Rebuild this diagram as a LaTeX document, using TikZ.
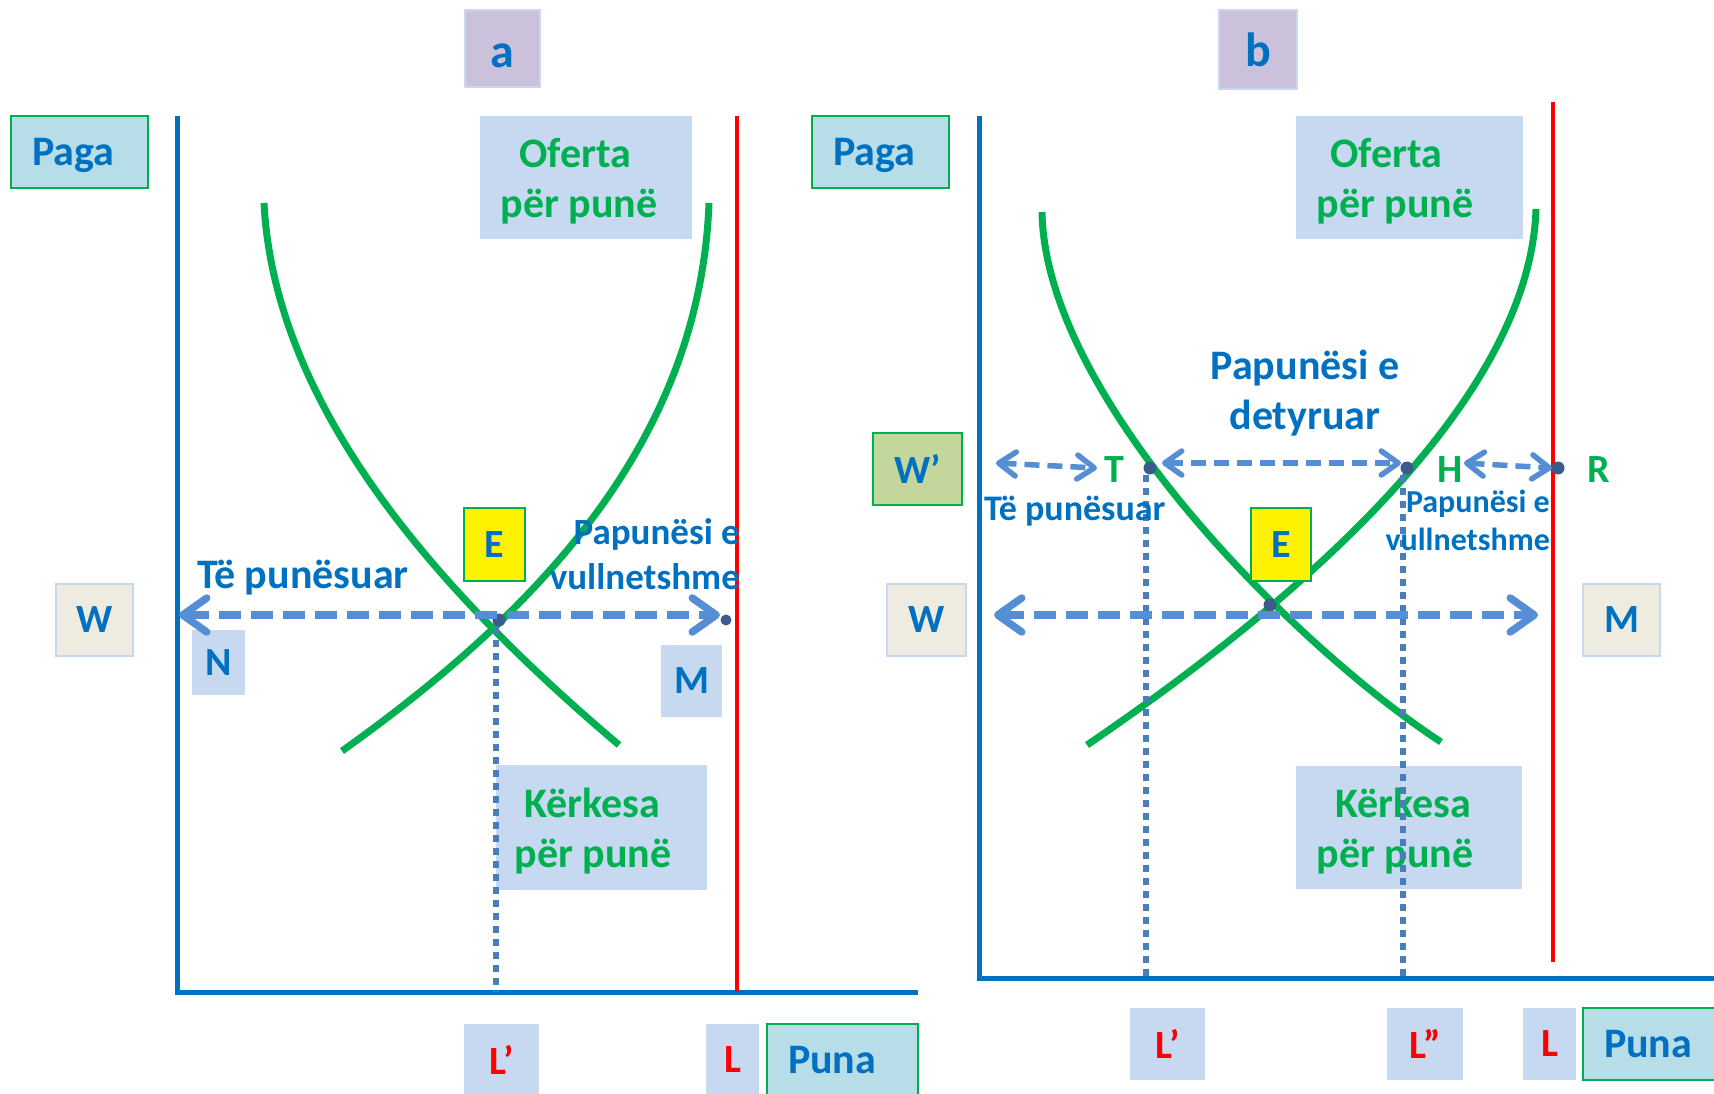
\documentclass[tikz,border=0pt]{standalone}
\usepackage{fontspec}
\setmainfont{Carlito}
\usetikzlibrary{arrows.meta}
\definecolor{tblue}{HTML}{0070C0}
\definecolor{tgreen}{HTML}{00B050}
\definecolor{tred}{HTML}{FF0000}
\definecolor{lbox}{HTML}{C6D9F1}
\definecolor{pagac}{HTML}{B7DEE8}
\definecolor{wboxc}{HTML}{EEECE1}
\definecolor{wprc}{HTML}{C3D69B}
\definecolor{lavc}{HTML}{CCC1DA}
\definecolor{arrc}{HTML}{558ED5}
\definecolor{dotc}{HTML}{3A5B8C}
\definecolor{vlinec}{HTML}{4A7EBB}
\newcommand{\fszBig}{\fontsize{42}{50}\selectfont\bfseries}
\newcommand{\fszLet}{\fontsize{40}{48}\selectfont\bfseries}
\newcommand{\fszAB}{\fontsize{48}{56}\selectfont\bfseries}
\newcommand{\fszMidA}{\fontsize{37}{45.5}\selectfont\bfseries}
\newcommand{\fszMidB}{\fontsize{36}{44}\selectfont\bfseries}
\newcommand{\fszSmB}{\fontsize{32}{38}\selectfont\bfseries}
\newcommand{\rpad}[1]{\hspace*{#1pt}}
\newcommand{\topstrut}{\rule{0pt}{37pt}}
\tikzset{
  bx/.style={rectangle, inner sep=0pt, line width=2pt, font=\fszLet},
  lbfill/.style={bx, fill=lbox, draw=none},
  lavbox/.style={bx, fill=lavc, draw=lbox, text=tblue, font=\fszAB},
  pagabox/.style={bx, fill=pagac, draw=tgreen, line width=2.5pt, text=tblue, font=\fszBig, align=left, inner xsep=21pt},
  wbox/.style={bx, fill=wboxc, draw=lbox, text=tblue},
  ebox/.style={bx, fill=yellow, draw=tgreen, text=tblue},
  wpbox/.style={bx, fill=wprc, draw=tgreen, line width=2.5pt, text=tblue},
  curvebox/.style={lbfill, text=tgreen, font=\fszBig, align=center},
  redlbl/.style={lbfill, text=tred},
  bluelbl/.style={lbfill, text=tblue},
  axisline/.style={draw=tblue, line width=5pt},
  redline/.style={draw=tred, line width=4.5pt},
  curve/.style={draw=tgreen, line width=7pt},
  vdots/.style={draw=vlinec, line width=5.5pt, dash pattern=on 7pt off 6pt},
  bigarrow/.style={draw=arrc, line width=7.5pt, dash pattern=on 22pt off 10pt,
     {Straight Barb[length=24pt,width=34pt,line cap=round,line join=round]}-{Straight Barb[length=24pt,width=34pt,line cap=round,line join=round]}},
  smallarrow/.style={draw=arrc, line width=5.5pt, dash pattern=on 15pt off 8pt,
     {Straight Barb[length=17pt,width=24pt,line cap=round,line join=round]}-{Straight Barb[length=17pt,width=24pt,line cap=round,line join=round]}},
  dotn/.style={circle, fill=dotc, inner sep=0pt, minimum size=13pt},
  ptlbl/.style={inner sep=0pt, text=tgreen, font=\fszLet, anchor=base},
  bluetext/.style={inner sep=0pt, text=tblue}
}
\begin{document}
\begin{tikzpicture}[x=1pt,y=-1pt]
\useasboundingbox (0,0) rectangle (1714,1093);

% ---------------- background boxes ----------------
\node[lavbox, minimum width=75pt, minimum height=77pt] (labA) at (502.5,48.5) {\rule{0pt}{38pt}a};
\node[lavbox, minimum width=78pt, minimum height=79pt] (labB) at (1258,49.5) {b};

\node[pagabox, text width=95pt, minimum height=72pt] (pagaA) at (79.5,152) {\rule{0pt}{34pt}Paga};
\node[pagabox, text width=95pt, minimum height=72pt] (pagaB) at (880.5,152) {\rule{0pt}{34pt}Paga};

\node[curvebox, minimum width=212pt, minimum height=123pt] (ofA) at (586,177.5) {\topstrut Oferta\rpad{22}\\për punë\rpad{14}};
\node[curvebox, minimum width=227pt, minimum height=123pt] (ofB) at (1409.5,177.5) {\topstrut Oferta\rpad{46}\\për punë\rpad{29}};
\node[curvebox, minimum width=211pt, minimum height=125pt] (kA) at (601.5,827.5) {\topstrut Kërkesa\rpad{19}\\për punë\rpad{17}};
\node[curvebox, minimum width=226pt, minimum height=123pt] (kB) at (1409,827.5) {\topstrut Kërkesa\rpad{12}\\për punë\rpad{28}};

\node[wbox, minimum width=77pt, minimum height=72pt] (wA) at (94.5,620) {W};
\node[bluelbl, minimum width=53pt, minimum height=65pt] (nA) at (218.5,662.5) {N};
\node[bluelbl, minimum width=61pt, minimum height=72pt] (mA) at (691.5,681) {M};
\node[wbox, minimum width=79pt, minimum height=72pt] (wB) at (926.5,620) {W};
\node[wbox, minimum width=77pt, minimum height=72pt] (mB) at (1621.5,620) {M};
\node[wpbox, minimum width=89pt, minimum height=72pt] (wpB) at (917.5,469) {W’};

\node[redlbl, minimum width=75pt, minimum height=72pt] (lpA) at (501.5,1060) {L’};
\node[redlbl, minimum width=53pt, minimum height=72pt] (lA) at (732.5,1060) {L};
\node[pagabox, text width=109pt, minimum height=72pt] (punaA) at (842.5,1060) {Puna};
\node[redlbl, minimum width=75pt, minimum height=72pt] (lpB) at (1167.5,1044) {L’};
\node[redlbl, minimum width=76pt, minimum height=72pt] (lppB) at (1425,1044) {L”};
\node[redlbl, minimum width=53pt, minimum height=72pt] (lB) at (1549.5,1044) {L};
\node[pagabox, text width=95pt, minimum height=72pt] (punaB) at (1651.5,1044) {Puna};

% ---------------- axes ----------------
\coordinate (aTop) at (177,116); \coordinate (aO) at (177,992); \coordinate (aEnd) at (918,992);
\coordinate (bTop) at (979,116); \coordinate (bO) at (979,978); \coordinate (bEnd) at (1716,978);
\draw[axisline] (aTop) -- (aO) -- (aEnd);
\draw[axisline] (bTop) -- (bO) -- (bEnd);

\coordinate (rAt) at (737,116); \coordinate (rAb) at (737,992);
\coordinate (rBt) at (1553,102); \coordinate (rBb) at (1553,962);
\draw[redline] (rAt) -- (rAb);
\draw[redline] (rBt) -- (rBb);

% ---------------- curves ----------------
\coordinate (dAs) at (264,203); \coordinate (dAe) at (619,745);
\coordinate (sAs) at (709,203); \coordinate (sAe) at (342,751);
\draw[curve] (dAs) .. controls (275,420) and (460,610) .. (dAe);
\draw[curve] (sAs) .. controls (700,440) and (540,610) .. (sAe);

\coordinate (dBs) at (1042,212); \coordinate (dBe) at (1441,742);
\coordinate (sBs) at (1536,209); \coordinate (sBe) at (1087,745);
\draw[curve] (dBs) .. controls (1045,400) and (1300,650) .. (dBe);
\draw[curve] (sBs) .. controls (1530,400) and (1300,600) .. (sBe);

% ---------------- dots ----------------
\node[dotn] (eDotA) at (499,620) {};
\node[dotn, minimum size=11pt] (mDotA) at (726,620) {};
\node[dotn] (eDotB) at (1270,605) {};
\node[dotn] (tDot) at (1150,468) {};
\node[dotn] (hDot) at (1407,468) {};
\node[dotn] (rDot) at (1558,468) {};

% ---------------- dotted verticals ----------------
\coordinate (vA) at (496,992);
\coordinate (vB1) at (1146,978);
\coordinate (vB2) at (1403,978);
\draw[vdots] (496,627) -- (vA);
\draw[vdots] (1146,475) -- (vB1);
\draw[vdots] (1403,475) -- (vB2);

% ---------------- arrows ----------------
\coordinate (arAL) at (179,615); \coordinate (arAR) at (720,615);
\draw[bigarrow] (arAL) -- (arAR);
\coordinate (arBL) at (994,615); \coordinate (arBR) at (1538,615);
\draw[bigarrow] (arBL) -- (arBR);

\coordinate (sa1L) at (996,463); \coordinate (sa1R) at (1097,468);
\coordinate (sa2L) at (1162,463); \coordinate (sa2R) at (1401,463);
\coordinate (sa3L) at (1464,463); \coordinate (sa3R) at (1552,468);
\draw[smallarrow] (sa1L) -- (sa1R);
\draw[smallarrow] (sa2L) -- (sa2R);
\draw[smallarrow] (sa3L) -- (sa3R);

% ---------------- E boxes ----------------
\node[ebox, minimum width=61pt, minimum height=73pt] (eA) at (494.5,544.5) {E};
\node[ebox, minimum width=60pt, minimum height=73pt] (eB) at (1281,544.5) {E};

% ---------------- texts ----------------
\node[bluetext, font=\fszBig, anchor=base west] (tpA) at (197,588) {Të punësuar};
\node[bluetext, font=\fszMidA, anchor=east, align=right] (pvA) at (740,554) {Papunësi e\\vullnetshme};
\node[bluetext, font=\fszBig, align=center] (pdB) at (1305,393) {Papunësi e\\detyruar};
\node[bluetext, font=\fszMidB, anchor=base west] (tpB) at (984,520) {Të punësuar};
\node[bluetext, font=\fszSmB, anchor=east, align=right] (pvB) at (1550,520) {Papunësi e\\vullnetshme};

\node[ptlbl] (tT) at (1114,482) {T};
\node[ptlbl] (tH) at (1450,482) {H};
\node[ptlbl] (tR) at (1599,482) {R};
\end{tikzpicture}
\end{document}
